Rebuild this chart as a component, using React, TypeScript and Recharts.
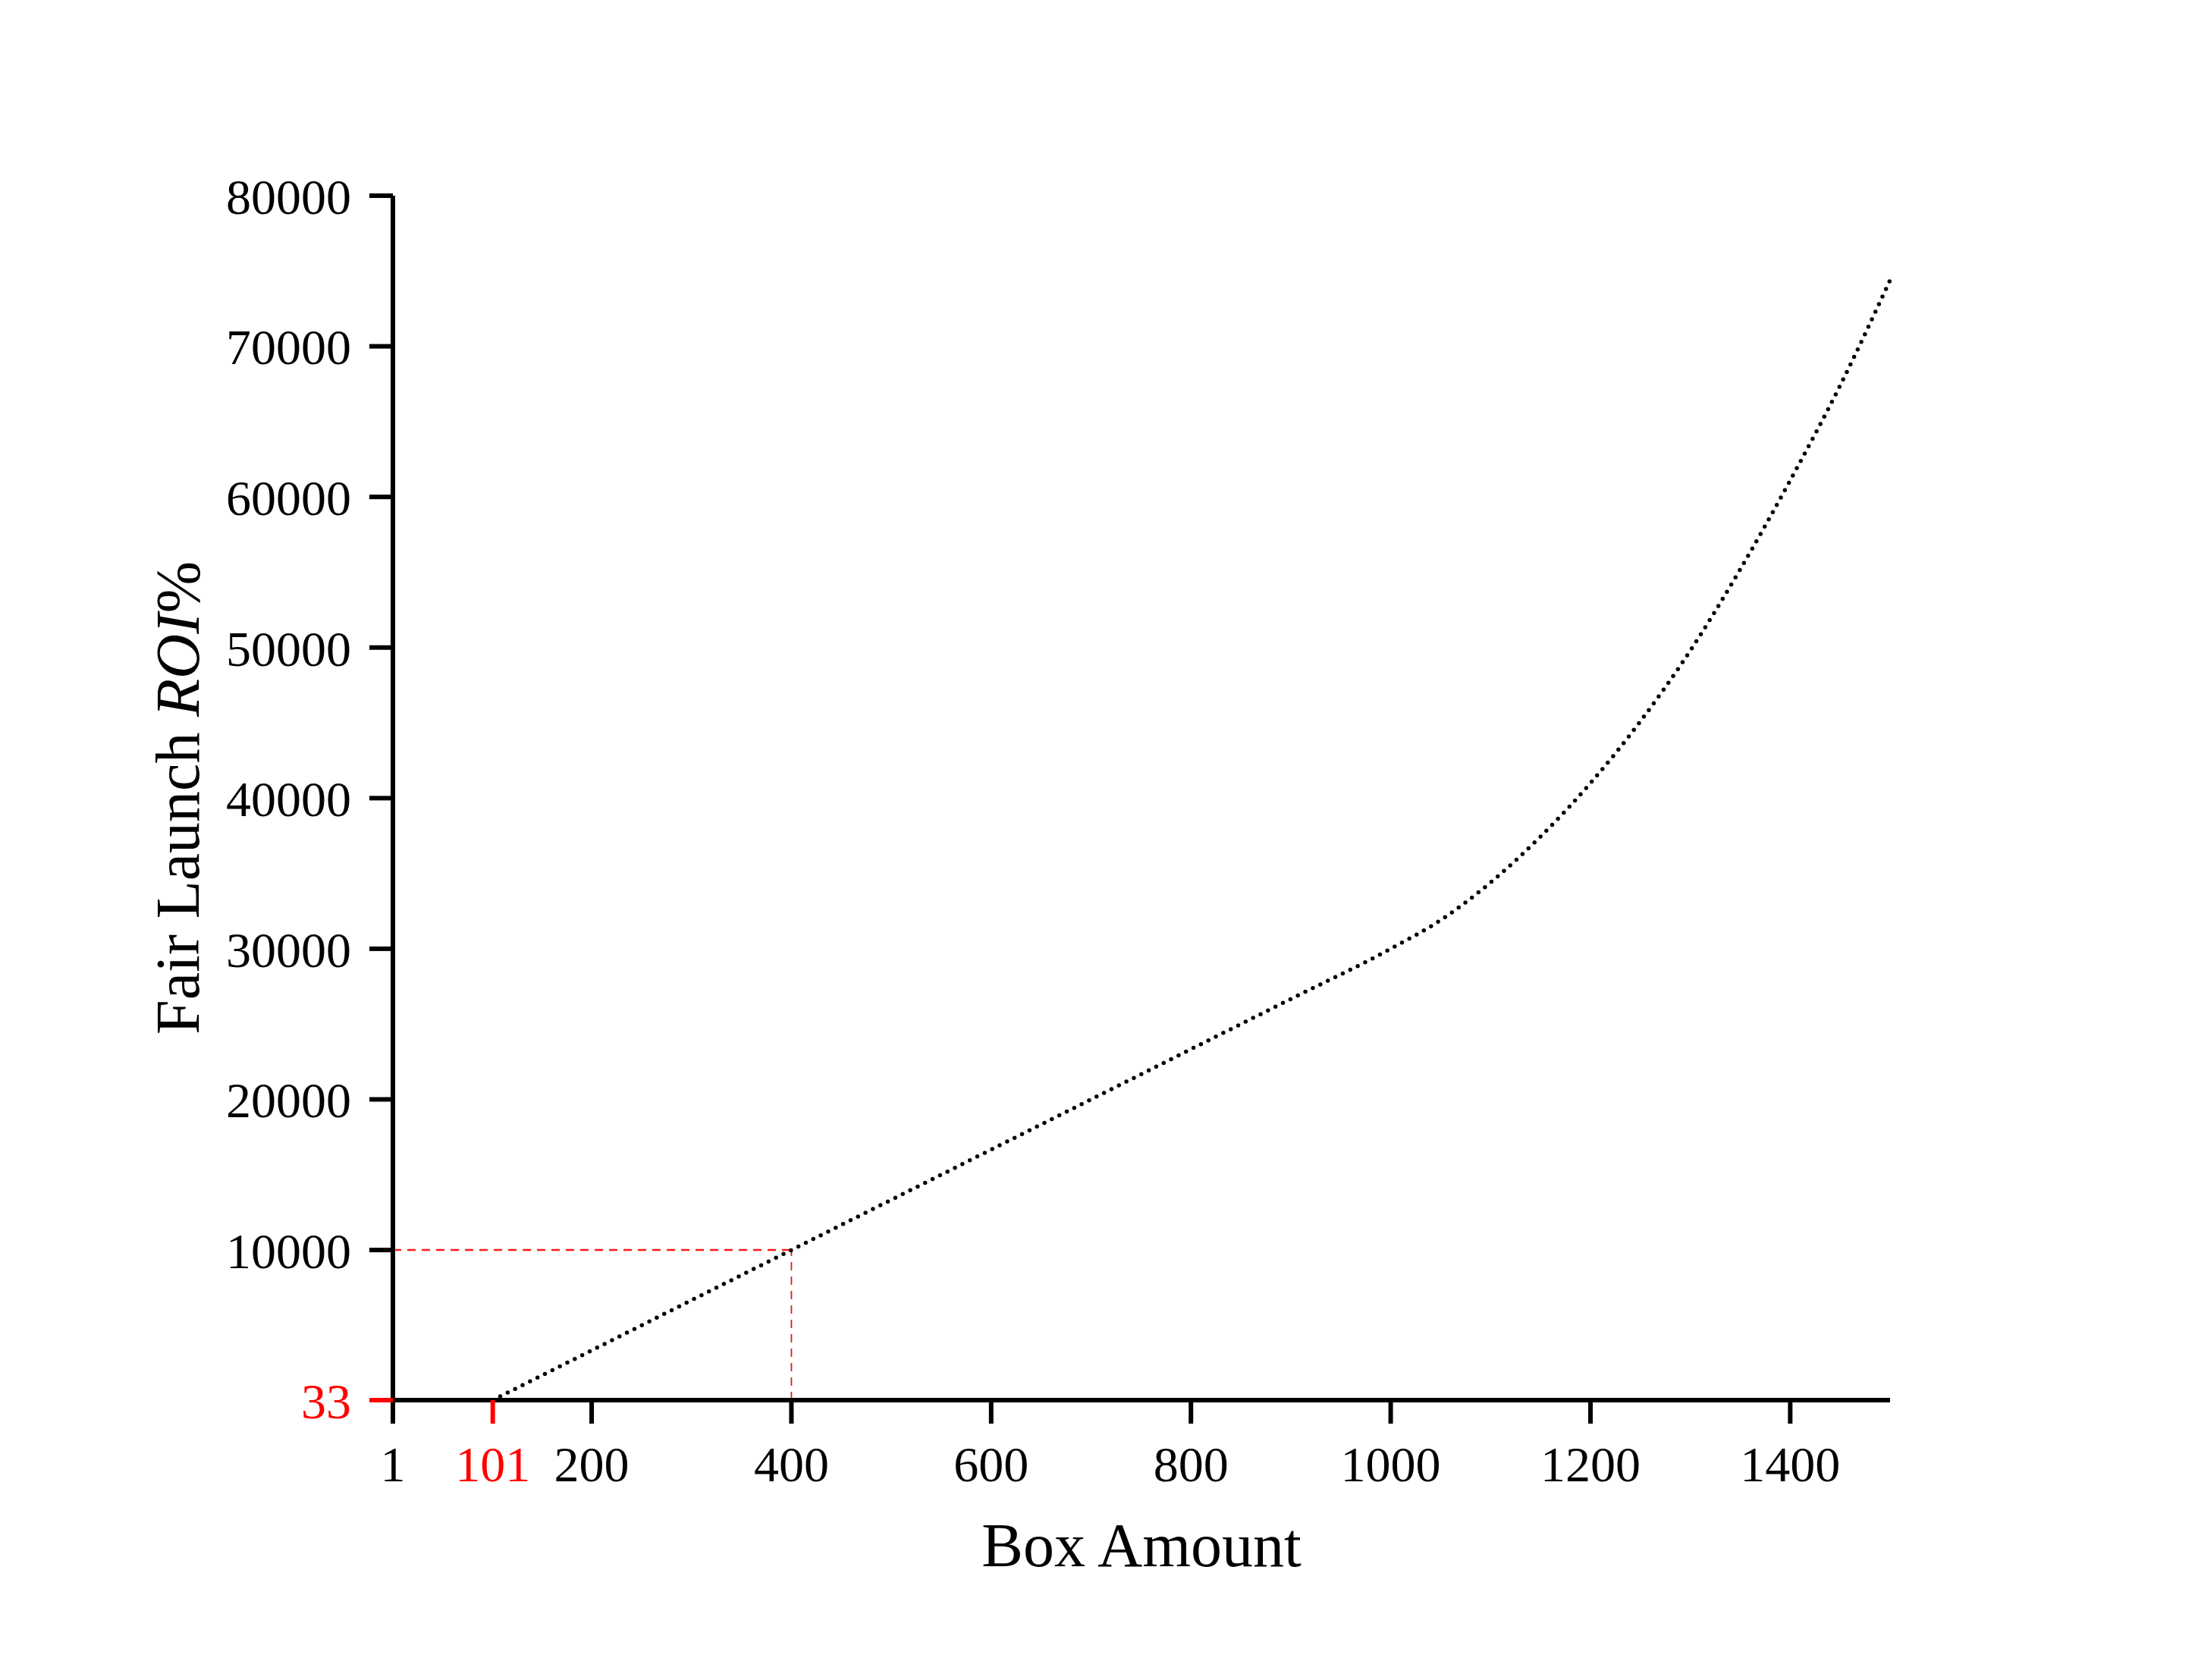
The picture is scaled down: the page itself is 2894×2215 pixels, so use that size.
import React from "react";
import { LineChart, Line, XAxis, YAxis, ReferenceLine, Label } from "recharts";

// box amount vs fair launch ROI%
const boxAmount = [101, 200, 300, 400, 500, 600, 700, 800, 900, 1000, 1050, 1100, 1150, 1200, 1250, 1300, 1350, 1400, 1450, 1500];
const roiPercent = [33, 3333, 6667, 10000, 13333, 16667, 20000, 23333, 26667, 30000, 31900, 34400, 37450, 41000, 45100, 49800, 55200, 61100, 67400, 74400];

const xTicks = [1, 101, 200, 400, 600, 800, 1000, 1200, 1400];
const yTicks = [33, 10000, 20000, 30000, 40000, 50000, 60000, 70000, 80000];

const startBox = 101;
const startRoi = 33;
const markBox = 400;
const markRoi = 10000;

const data = boxAmount.map((b, i) => ({ box: b, roi: roiPercent[i] }));

const FONT = "'Liberation Serif', 'Times New Roman', serif";
const TICK = 31;
const RED = "#ff0000";

const XTick = (props: any) => {
  const { x, y, payload } = props;
  const color = payload.value === startBox ? RED : "#000";
  return (
    <g>
      <line x1={x} y1={y - TICK} x2={x} y2={y} stroke={color} strokeWidth={6} />
      <text x={x} y={y + 76} textAnchor="middle" fill={color} fontSize={66} fontFamily={FONT}>
        {payload.value}
      </text>
    </g>
  );
};

const YTick = (props: any) => {
  const { x, y, payload } = props;
  const color = payload.value === startRoi ? RED : "#000";
  return (
    <g>
      <line x1={x} y1={y} x2={x + TICK} y2={y} stroke={color} strokeWidth={6} />
      <text x={x - 24} y={y} dy="0.36em" textAnchor="end" fill={color} fontSize={66} fontFamily={FONT}>
        {payload.value}
      </text>
    </g>
  );
};

const XTitle = (props: any) => {
  const vb = props.viewBox || { x: 518, y: 1846, width: 1974, height: 369 };
  return (
    <text x={vb.x + vb.width / 2} y={vb.y + 219} textAnchor="middle" fontSize={82} fontFamily={FONT} fill="#000">
      Box Amount
    </text>
  );
};

const YTitle = (props: any) => {
  const vb = props.viewBox || { x: 0, y: 258, width: 518, height: 1588 };
  const cx = vb.x + 262;
  const cy = vb.y + vb.height / 2;
  return (
    <text x={cx} y={cy} transform={`rotate(-90, ${cx}, ${cy})`} textAnchor="middle" fontSize={82} fontFamily={FONT} fill="#000">
      Fair Launch <tspan fontStyle="italic">ROI</tspan>%
    </text>
  );
};

export default function App() {
  return (
    <div style={{ position: "absolute", left: 0, top: 0, background: "#fff" }}>
      <LineChart width={2894} height={2215} data={data} margin={{ top: 258, right: 402, bottom: 0, left: 0 }}>
        <XAxis
          type="number"
          dataKey="box"
          domain={[1, 1500]}
          ticks={xTicks}
          interval={0}
          height={369}
          tickSize={TICK}
          tickMargin={0}
          tickLine={false}
          axisLine={{ stroke: "#000", strokeWidth: 6 }}
          tick={XTick}
        >
          <Label content={XTitle} />
        </XAxis>
        <YAxis
          type="number"
          domain={[startRoi, 80000]}
          ticks={yTicks}
          interval={0}
          width={518}
          tickSize={TICK}
          tickMargin={0}
          tickLine={false}
          axisLine={{ stroke: "#000", strokeWidth: 6 }}
          tick={YTick}
        >
          <Label content={YTitle} />
        </YAxis>
        <ReferenceLine
          segment={[{ x: 1, y: markRoi }, { x: markBox, y: markRoi }]}
          stroke="#ff1a1a"
          strokeWidth={2.5}
          strokeDasharray="11 8"
        />
        <ReferenceLine
          segment={[{ x: markBox, y: startRoi }, { x: markBox, y: markRoi }]}
          stroke="#d42020"
          strokeWidth={1.8}
          strokeDasharray="11 8"
        />
        <Line
          type="monotone"
          dataKey="roi"
          stroke="#000"
          strokeWidth={5.5}
          strokeDasharray="0 11"
          strokeLinecap="round"
          dot={false}
          activeDot={false}
          isAnimationActive={false}
        />
      </LineChart>
    </div>
  );
}
